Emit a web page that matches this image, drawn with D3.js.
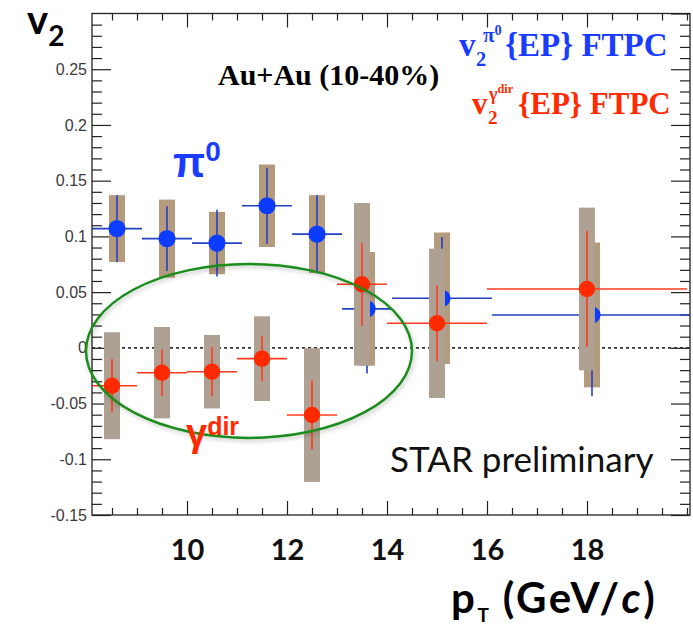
<!DOCTYPE html>
<html>
<head>
<meta charset="utf-8">
<script src="https://cdn.jsdelivr.net/npm/d3@7/dist/d3.min.js"></script>
<style>
  html, body { margin: 0; padding: 0; background: #fff; }
  svg { display: block; }
</style>
</head>
<body>
<svg id="chart" width="693" height="625"></svg>
<script>
// pi0 v2{EP} FTPC
const pi0PT     = [8.6, 9.6, 10.6, 11.6, 12.6, 13.6, 15.1, 18.1];
const pi0PTErr  = [0.5, 0.5, 0.5, 0.5, 0.5, 0.5, 1.0, 2.0];
const pi0V2     = [0.107, 0.098, 0.094, 0.1275, 0.102, 0.035, 0.0445, 0.0295];
const pi0Stat   = [0.030, 0.029, 0.030, 0.034, 0.035, 0.058, 0.055, 0.073];
const pi0Sys    = [0.030, 0.035, 0.028, 0.037, 0.035, 0.051, 0.059, 0.065];

// direct photon v2{EP} FTPC
const gamPT     = [8.5, 9.5, 10.5, 11.5, 12.5, 13.5, 15.0, 18.0];
const gamPTErr  = [0.5, 0.5, 0.5, 0.5, 0.5, 0.5, 1.0, 2.0];
const gamV2     = [-0.034, -0.0223, -0.0214, -0.0097, -0.0603, 0.057, 0.022, 0.0528];
const gamStat   = [0.024, 0.021, 0.022, 0.020, 0.031, 0.0375, 0.034, 0.052];
const gamSys    = [0.048, 0.041, 0.033, 0.038, 0.060, 0.073, 0.067, 0.073];

// axis ticks
const xMajorTicks = [10, 12, 14, 16, 18];
const yMajorTicks = [-0.15, -0.1, -0.05, 0, 0.05, 0.1, 0.15, 0.2, 0.25];
const yTickLabels = ["-0.15", "-0.1", "-0.05", "0", "0.05", "0.1", "0.15", "0.2", "0.25"];

const X0 = 92, X1 = 690, Y0 = 13.5, Y1 = 515;
const x = d3.scaleLinear().domain([8.1, 20.06]).range([X0, X1]);
const y = d3.scaleLinear().domain([-0.15, 0.30]).range([Y1, Y0]);

const svg = d3.select("#chart");
const defs = svg.append("defs");
defs.append("clipPath").attr("id", "plotClip")
  .append("rect").attr("x", X0).attr("y", Y0).attr("width", X1 - X0).attr("height", Y1 - Y0);
const shadow = defs.append("filter").attr("id", "ellShadow")
  .attr("x", "-10%").attr("y", "-10%").attr("width", "120%").attr("height", "130%");
shadow.append("feDropShadow").attr("dx", 1.5).attr("dy", 2).attr("stdDeviation", 2)
  .attr("flood-color", "#000").attr("flood-opacity", 0.25);

// ticks on all four sides, pointing inward
const xMinor = d3.range(8.5, 20.01, 0.5).filter(v => !xMajorTicks.includes(v));
const yMinor = d3.range(-0.15, 0.3001, 0.01).map(v => +v.toFixed(2))
  .filter(v => !yMajorTicks.some(t => Math.abs(t - v) < 1e-6) && v < 0.299);

function tickAxis(axisFn, scale, pos, values, size, labels) {
  const a = axisFn(scale).tickValues(values).tickSizeInner(-size).tickSizeOuter(0);
  if (labels) a.tickFormat((d, i) => labels[i]); else a.tickFormat("");
  const g = svg.append("g").attr("transform", pos).call(a);
  g.select(".domain").remove();
  g.selectAll(".tick line").attr("stroke", "#222").attr("stroke-width", 1.2);
  return g;
}
const yl = tickAxis(d3.axisLeft, y, `translate(${X0},0)`, yMajorTicks, 19, yTickLabels);
yl.selectAll("text").attr("font-family", "'Liberation Sans', Arial, sans-serif")
  .attr("font-size", 16).attr("fill", "#3a3a3a").attr("x", -5);
tickAxis(d3.axisLeft, y, `translate(${X0},0)`, yMinor, 10);
tickAxis(d3.axisRight, y, `translate(${X1},0)`, yMajorTicks.concat([0.3]), 19);
tickAxis(d3.axisRight, y, `translate(${X1},0)`, yMinor, 10);
const xb = tickAxis(d3.axisBottom, x, `translate(0,${Y1})`, xMajorTicks, 14, xMajorTicks.map(String));
xb.selectAll("text").attr("font-family", "Lato, 'Open Sans', sans-serif")
  .attr("font-weight", "bold").attr("font-size", 29).attr("fill", "#111")
  .attr("y", 45).attr("dy", 0);
tickAxis(d3.axisBottom, x, `translate(0,${Y1})`, xMinor, 7);
tickAxis(d3.axisTop, x, `translate(0,${Y0})`, xMajorTicks, 14);
tickAxis(d3.axisTop, x, `translate(0,${Y0})`, xMinor, 7);

// zero reference line
svg.append("line")
  .attr("x1", X0).attr("x2", X1).attr("y1", y(0)).attr("y2", y(0))
  .attr("stroke", "#333").attr("stroke-width", 1.6).attr("stroke-dasharray", "3,3");

const plot = svg.append("g").attr("clip-path", "url(#plotClip)");

function drawSeries(pt, ptErr, v2, stat, sys, boxColor, lineColor, markColor, r) {
  const rows = pt.map((p, i) => ({ p, pe: ptErr[i], v: v2[i], s: stat[i], sy: sys[i] }));
  const halfW = (x(8.26) - x(8.1));
  plot.append("g").selectAll("rect").data(rows).join("rect")
    .attr("x", d => x(d.p) - halfW).attr("width", 2 * halfW)
    .attr("y", d => y(d.v + d.sy)).attr("height", d => y(d.v - d.sy) - y(d.v + d.sy))
    .attr("fill", boxColor);
  const eg = plot.append("g").attr("stroke", lineColor).attr("stroke-width", 1.6);
  eg.selectAll("line.h").data(rows).join("line").attr("class", "h")
    .attr("x1", d => x(d.p - d.pe)).attr("x2", d => x(d.p + d.pe))
    .attr("y1", d => y(d.v)).attr("y2", d => y(d.v));
  eg.selectAll("line.v").data(rows).join("line").attr("class", "v")
    .attr("x1", d => x(d.p)).attr("x2", d => x(d.p))
    .attr("y1", d => y(d.v + d.s)).attr("y2", d => y(d.v - d.s));
  plot.append("g").selectAll("circle").data(rows).join("circle")
    .attr("cx", d => x(d.p)).attr("cy", d => y(d.v)).attr("r", r)
    .attr("fill", markColor);
}
drawSeries(pi0PT, pi0PTErr, pi0V2, pi0Stat, pi0Sys, "#b49b7e", "#2440c4", "#0b3cff", 8.6);
drawSeries(gamPT, gamPTErr, gamV2, gamStat, gamSys, "#aea193", "#ff3a1c", "#ff2a00", 8.2);

// frame
svg.append("rect").attr("x", X0).attr("y", Y0).attr("width", X1 - X0).attr("height", Y1 - Y0)
  .attr("fill", "none").attr("stroke", "#222").attr("stroke-width", 1.3);

// ellipse around the direct-photon points
svg.append("ellipse")
  .attr("cx", x(11.24)).attr("cy", y(-0.0028))
  .attr("rx", x(11.24 + 3.26) - x(11.24)).attr("ry", y(-0.0028 - 0.078) - y(-0.0028))
  .attr("fill", "none").attr("stroke", "#1a8c1a").attr("stroke-width", 2.5)
  .attr("filter", "url(#ellShadow)");

// labels
const serif = "'Liberation Serif', 'Times New Roman', serif";
const sans = "Lato, 'Open Sans', sans-serif";
const arial = "'Liberation Sans', Arial, sans-serif";

svg.append("text").attr("x", 218).attr("y", 85)
  .attr("font-family", serif).attr("font-weight", "bold").attr("font-size", 30).attr("fill", "#000")
  .text("Au+Au (10-40%)");

// legend entry: v_2 with a superscript particle name, then "{EP} FTPC"
function legendEntry(xv, base, color, size, subX, supX, supMain, supSup, supSize, tailX) {
  const g = svg.append("g").attr("fill", color).attr("font-family", serif).attr("font-weight", "bold");
  g.append("text").attr("x", xv).attr("y", base).attr("font-size", size).text("v");
  g.append("text").attr("x", subX).attr("y", base + 10).attr("font-size", size * 0.62).text("2");
  g.append("text").attr("x", supX).attr("y", base - 14).attr("font-size", supSize)
    .text(supMain)
    .append("tspan").attr("dy", -7).attr("font-size", supSize * 0.68).text(supSup);
  g.append("text").attr("x", tailX).attr("y", base).attr("font-size", size).text("{EP} FTPC");
  return g;
}
legendEntry(459, 56, "#1a3cff", 33, 476, 483, "π", "0", 21, 505);
legendEntry(472, 114, "#ff2a00", 31, 488, 489, "γ", "dir", 18, 518);

// series names inside the plot
svg.append("text").attr("x", 173).attr("y", 177)
  .attr("font-family", arial).attr("font-weight", "bold").attr("font-size", 42).attr("fill", "#1a3cff")
  .text("π").append("tspan").attr("dy", -16).attr("font-size", 28).text("0");
svg.append("text").attr("x", 186).attr("y", 446)
  .attr("font-family", arial).attr("font-weight", "bold").attr("font-size", 38).attr("fill", "#ff2a00")
  .text("γ").append("tspan").attr("dy", -11).attr("font-size", 25).text("dir");

svg.append("text").attr("x", 390).attr("y", 472)
  .attr("font-family", sans).attr("font-size", 35).attr("fill", "#111")
  .text("STAR preliminary");

// axis titles
const yt = svg.append("text").attr("x", 27).attr("y", 34)
  .attr("font-family", sans).attr("font-weight", "bold").attr("font-size", 40).attr("fill", "#000")
  .text("v");
yt.append("tspan").attr("dy", 12).attr("font-size", 28).text("2");

const xt = svg.append("text").attr("x", 451).attr("y", 613)
  .attr("font-family", sans).attr("font-weight", "bold").attr("font-size", 42).attr("fill", "#000")
  .attr("letter-spacing", 2.6)
  .text("p");
xt.append("tspan").attr("dy", 9).attr("font-size", 19).attr("letter-spacing", 1).text("T");
xt.append("tspan").attr("dy", -9).text(" (GeV/");
xt.append("tspan").attr("font-style", "italic").text("c");
xt.append("tspan").text(")");
</script>
</body>
</html>
